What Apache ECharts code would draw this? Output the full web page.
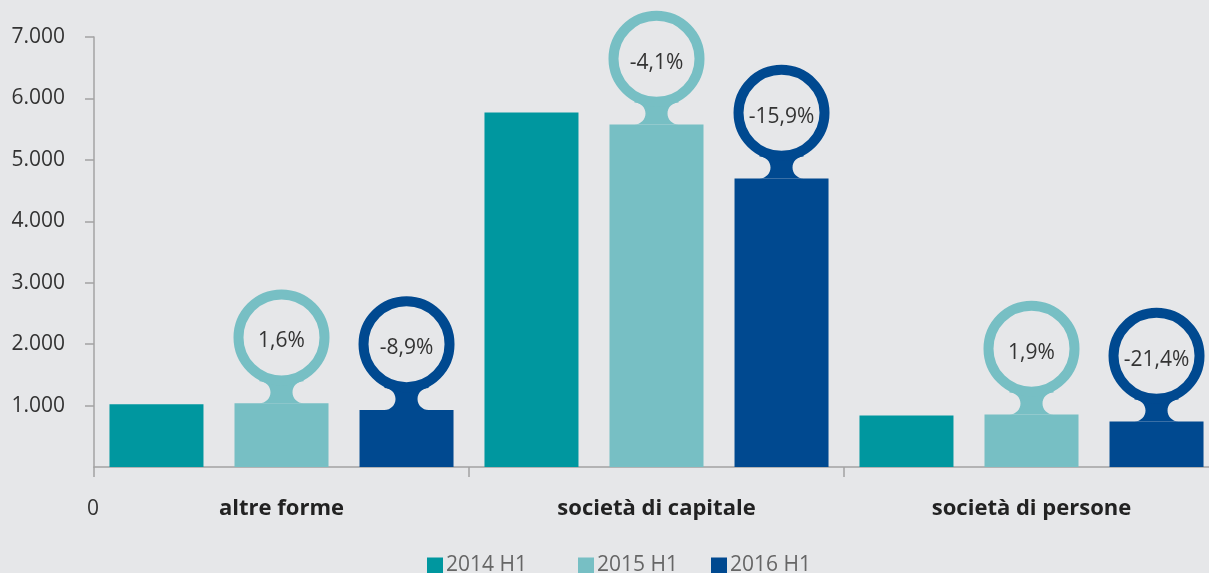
<!DOCTYPE html>
<html>
<head>
<meta charset="utf-8">
<script src="https://cdn.jsdelivr.net/npm/echarts@6/dist/echarts.min.js"></script>
<style>
  html, body { margin: 0; padding: 0; background: #e6e7e9; }
  #chart { width: 1209px; height: 573px; }
</style>
</head>
<body>
<div id="chart"></div>
<script>
// Categories and yearly values (first half of each year)
const categories = ['altre forme', 'società di capitale', 'società di persone'];
const years = ['2014 H1', '2015 H1', '2016 H1'];
const values2014 = [1022, 5772, 840];
const values2015 = [1038, 5575, 856];
const values2016 = [929, 4695, 739];
// Year-on-year change shown in the bubbles above the bars
const change2015 = ['1,6%', '-4,1%', '1,9%'];
const change2016 = ['-8,9%', '-15,9%', '-21,4%'];

const COLORS = ['#00979f', '#77bfc4', '#004990'];
const BG = '#e6e7e9';
const AXIS = '#a3a3a3';
const FONT = '"Open Sans", "Noto Sans", sans-serif';
const BAR_W = 94;
const BAR_GAP = 0.33;
const STEP = BAR_W * (1 + BAR_GAP);
const K = 0.5523; // cubic approximation of a quarter circle

// Bubble geometry: ring radius/width, neck half width, fillet radius
const RING_R = 43, RING_W = 10;
const NECK_HALF = 11, FILLET = 11;
const OUTER = RING_R + RING_W / 2;
// distance from bar top to ring centre so the fillets touch both ring and bar
const RISE = FILLET + Math.sqrt(Math.pow(OUTER + FILLET, 2) - Math.pow(NECK_HALF + FILLET, 2));

function fmtThousands(v) {
  return String(v).replace(/\B(?=(\d{3})+(?!\d))/g, '.');
}

// Ring bubble with a waisted neck sitting on top of a bar
function bubbleSeries(name, values, labels, slot, color) {
  return {
    type: 'custom',
    name: name,
    z: 5,
    silent: true,
    data: values.map((v, i) => [i, v, labels[i]]),
    renderItem: function (params, api) {
      const p = api.coord([api.value(0), api.value(1)]);
      const c = p[0] + (slot - 1) * STEP;
      const top = p[1];
      const cy = top - RISE;
      const r = FILLET, n = NECK_HALF;
      const xL = c - n - r, xR = c + n + r;
      const yIn = cy + RING_R - 3;
      const P = (x, y) => x.toFixed(2) + ' ' + y.toFixed(2);
      const neck =
        'M' + P(xL, top) +
        ' C' + P(xL + K * r, top) + ' ' + P(xL + r, top - r + K * r) + ' ' + P(xL + r, top - r) +
        ' C' + P(xL + r, top - r - K * r) + ' ' + P(xL + K * r, top - 2 * r) + ' ' + P(xL, top - 2 * r) +
        ' L' + P(xL, yIn) +
        ' L' + P(xR, yIn) +
        ' L' + P(xR, top - 2 * r) +
        ' C' + P(xR - K * r, top - 2 * r) + ' ' + P(xR - r, top - r - K * r) + ' ' + P(xR - r, top - r) +
        ' C' + P(xR - r, top - r + K * r) + ' ' + P(xR - K * r, top) + ' ' + P(xR, top) + ' Z';
      return {
        type: 'group',
        children: [
          { type: 'path', shape: { pathData: neck }, style: { fill: color } },
          { type: 'circle', shape: { cx: c, cy: cy, r: RING_R },
            style: { fill: BG, stroke: color, lineWidth: RING_W } },
          { type: 'text',
            style: { text: api.value(2), x: c, y: cy + 4, align: 'center', verticalAlign: 'middle',
                     fontFamily: FONT, fontSize: 21, fill: '#333333' } }
        ]
      };
    }
  };
}

function legendAt(name, left) {
  return {
    data: [name], left: left, top: 550, itemWidth: 16, itemHeight: 16,
    icon: 'rect', selectedMode: false,
    textStyle: { fontFamily: FONT, fontSize: 21, color: '#666666', padding: [0, 0, 0, -2] }
  };
}

const chart = echarts.init(document.getElementById('chart'), null, { renderer: 'canvas' });
chart.setOption({
  animation: false,
  backgroundColor: BG,
  color: COLORS,
  grid: { left: 94, top: 37, width: 1125, bottom: 106, containLabel: false, outerBoundsMode: 'none' },
  legend: [legendAt(years[0], 422), legendAt(years[1], 573), legendAt(years[2], 706)],
  xAxis: {
    type: 'category',
    data: categories,
    axisLine: { lineStyle: { color: AXIS, width: 1.5 } },
    axisTick: { show: true, length: 10, lineStyle: { color: AXIS, width: 1.5 } },
    axisLabel: { margin: 31, fontFamily: FONT, fontSize: 22, fontWeight: 'bold', color: '#222222' }
  },
  yAxis: {
    type: 'value',
    min: 0, max: 7000, interval: 1000,
    axisLine: { show: true, lineStyle: { color: AXIS, width: 1.5 } },
    axisTick: { show: true, length: 9, lineStyle: { color: AXIS, width: 1.5 } },
    splitLine: { show: false },
    axisLabel: { margin: 29, showMinLabel: false, fontFamily: FONT, fontSize: 21, color: '#333333',
                 formatter: fmtThousands }
  },
  graphic: [
    { type: 'text', x: 93, y: 509,
      style: { text: '0', align: 'center', verticalAlign: 'middle', fontFamily: FONT, fontSize: 21, fill: '#333333' } }
  ],
  series: [
    { type: 'bar', name: years[0], data: values2014, barWidth: BAR_W, barGap: '33%', itemStyle: { color: COLORS[0] } },
    { type: 'bar', name: years[1], data: values2015, barWidth: BAR_W, barGap: '33%', itemStyle: { color: COLORS[1] } },
    { type: 'bar', name: years[2], data: values2016, barWidth: BAR_W, barGap: '33%', itemStyle: { color: COLORS[2] } },
    bubbleSeries('variazione 2015', values2015, change2015, 1, COLORS[1]),
    bubbleSeries('variazione 2016', values2016, change2016, 2, COLORS[2])
  ]
});
</script>
</body>
</html>
